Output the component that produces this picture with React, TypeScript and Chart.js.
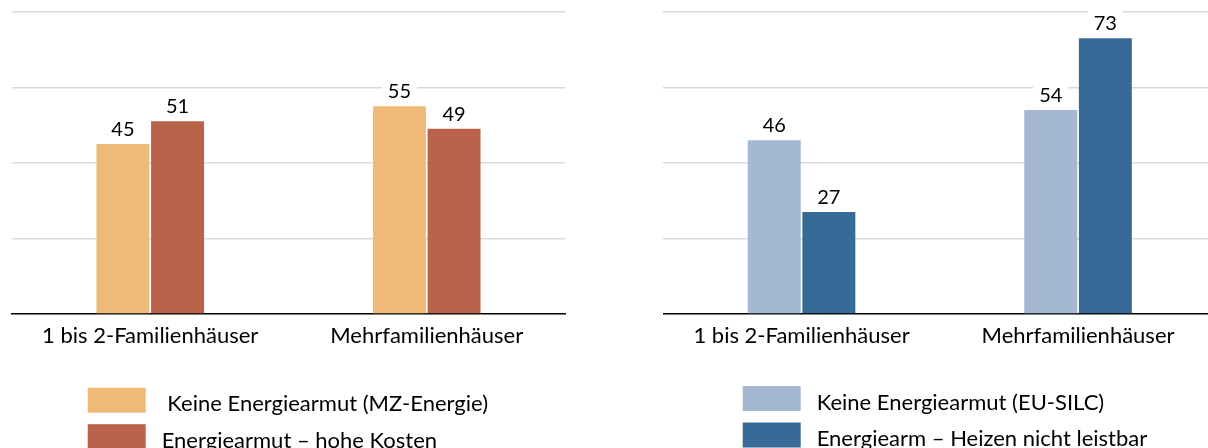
import React, { useEffect, useRef } from "react";
import { Chart, registerables } from "chart.js";

Chart.register(...registerables);

const categories = ["1 bis 2-Familienhäuser", "Mehrfamilienhäuser"];

const leftSeriesNames = [" Keine Energiearmut (MZ-Energie)", "Energiearmut – hohe Kosten"];
const leftNoPoverty = [45, 55];
const leftHighCosts = [51, 49];
const leftColors = ["#EFBA77", "#B8634A"];

const rightSeriesNames = ["Keine Energiearmut (EU-SILC)", "Energiearm – Heizen nicht leistbar"];
const rightNoPoverty = [46, 54];
const rightCannotHeat = [27, 73];
const rightColors = ["#A5B8D1", "#376A97"];

const yMin = 0;
const yMax = 80;
const yStep = 20;

const FONT = "Lato, 'Open Sans', sans-serif";

const valueLabelPlugin = {
  id: "valueLabels",
  afterDatasetsDraw(chart: any) {
    const ctx = chart.ctx;
    ctx.save();
    ctx.font = `20px ${FONT}`;
    ctx.textAlign = "center";
    ctx.textBaseline = "alphabetic";
    chart.data.datasets.forEach((ds: any, i: number) => {
      const meta = chart.getDatasetMeta(i);
      meta.data.forEach((el: any, j: number) => {
        const txt = String(ds.data[j]);
        const w = ctx.measureText(txt).width;
        ctx.fillStyle = "#ffffff";
        ctx.fillRect(el.x - w / 2 - 6, el.y - 28, w + 12, 25);
        ctx.fillStyle = "#000000";
        ctx.fillText(txt, el.x, el.y - 8);
      });
    });
    ctx.restore();
  },
};

const legendPlugin = {
  id: "customLegend",
  afterDraw(chart: any, _args: any, opts: any) {
    const ctx = chart.ctx;
    ctx.save();
    ctx.font = `22px ${FONT}`;
    ctx.textAlign = "left";
    ctx.textBaseline = "alphabetic";
    chart.data.datasets.forEach((ds: any, i: number) => {
      const top = opts.y + i * 36.5;
      ctx.fillStyle = ds.backgroundColor;
      ctx.fillRect(opts.x, top, 58, 25);
      ctx.fillStyle = "#000000";
      ctx.fillText(ds.label, opts.x + opts.textGap, top + 23.5);
    });
    ctx.restore();
  },
};

function makeConfig(names: string[], a: number[], b: number[], colors: string[], padLeft: number, padRight: number, legendX: number, legendY: number) {
  return {
    type: "bar",
    data: {
      labels: categories,
      datasets: [
        { label: names[0], data: a, backgroundColor: colors[0], categoryPercentage: 0.395, barPercentage: 0.97 },
        { label: names[1], data: b, backgroundColor: colors[1], categoryPercentage: 0.395, barPercentage: 0.97 },
      ],
    },
    options: {
      animation: false,
      responsive: false,
      layout: { padding: { left: padLeft, right: padRight, top: 11.7, bottom: 0 } },
      plugins: {
        legend: { display: false },
        tooltip: { enabled: false },
        customLegend: { x: legendX, y: legendY, textGap: 74 },
      },
      scales: {
        x: {
          grid: { display: false, drawTicks: false },
          border: { display: true, color: "#000000", width: 1.5 },
          ticks: { color: "#000000", font: { family: FONT, size: 22 }, padding: 9 },
          afterFit: (s: any) => {
            s.height = 448 - 314;
          },
        },
        y: {
          min: yMin,
          max: yMax,
          ticks: { display: false, stepSize: yStep },
          grid: {
            drawTicks: false,
            color: (c: any) => (c.tick && c.tick.value === 0 ? "rgba(0,0,0,0)" : "#d9d9d9"),
            lineWidth: 1.5,
          },
          border: { display: false },
          afterFit: (s: any) => {
            s.width = 0;
          },
        },
      },
    },
    plugins: [valueLabelPlugin, legendPlugin],
  };
}

function Panel(props: { left: number; width: number; config: any }) {
  const ref = useRef<HTMLCanvasElement | null>(null);
  useEffect(() => {
    if (!ref.current) return;
    const chart = new Chart(ref.current, props.config);
    return () => chart.destroy();
  }, []);
  return (
    <canvas
      ref={ref}
      width={props.width}
      height={448}
      style={{ position: "absolute", left: props.left, top: 0, width: props.width, height: 448 }}
    />
  );
}

export default function App() {
  const leftCfg = makeConfig(leftSeriesNames, leftNoPoverty, leftHighCosts, leftColors, 12, 39, 87.7, 387.7);
  const rightCfg = makeConfig(rightSeriesNames, rightNoPoverty, rightCannotHeat, rightColors, 59.3, 13.7, 138.7, 386);
  return (
    <div style={{ position: "fixed", left: 0, top: 0, width: 1208, height: 448, overflow: "hidden", background: "#ffffff" }}>
      <Panel left={0} width={604} config={leftCfg} />
      <Panel left={604} width={626} config={rightCfg} />
    </div>
  );
}
